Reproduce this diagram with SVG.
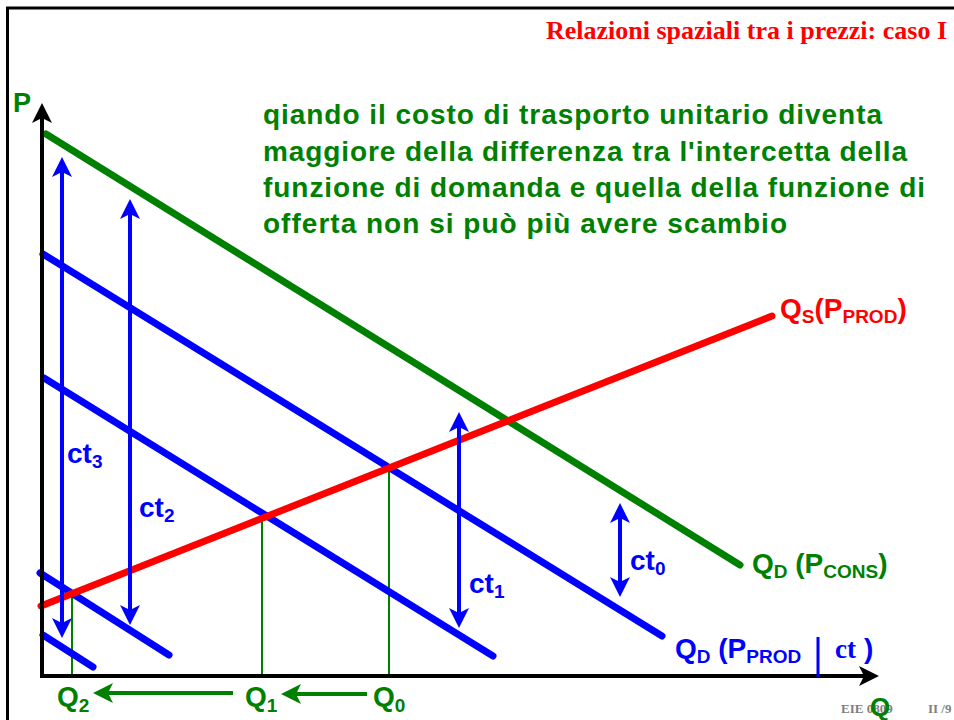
<svg xmlns="http://www.w3.org/2000/svg" width="954" height="720" viewBox="0 0 954 720">
<defs>
<style>
.s{font-family:"Liberation Sans",Arial,sans-serif;font-weight:bold}
.serif{font-family:"Liberation Serif","Times New Roman",serif;font-weight:bold}
.g{fill:#008000}.b{fill:#0000FF}.r{fill:#FF0000}
.curve{fill:none;stroke-width:7;stroke-linecap:round}
.arr{fill:none;stroke-width:4}
</style>
<marker id="hk" viewBox="0 0 20 20" refX="5" refY="10" markerWidth="20" markerHeight="20" markerUnits="userSpaceOnUse" orient="auto-start-reverse"><path d="M0,0 L20,10 L0,20 L5,10 Z" fill="#000"/></marker>
<marker id="hb" viewBox="0 0 20 20" refX="5" refY="10" markerWidth="20" markerHeight="20" markerUnits="userSpaceOnUse" orient="auto-start-reverse"><path d="M0,0 L20,10 L0,20 L5,10 Z" fill="#0000FF"/></marker>
<marker id="hg" viewBox="0 0 20 20" refX="5" refY="10" markerWidth="20" markerHeight="20" markerUnits="userSpaceOnUse" orient="auto-start-reverse"><path d="M0,0 L20,10 L0,20 L5,10 Z" fill="#008000"/></marker>
</defs>
<rect x="7.5" y="8" width="960" height="730" fill="none" stroke="#000" stroke-width="3"/>
<text class="serif r" x="546" y="39" font-size="26">Relazioni spaziali tra i prezzi: caso I</text>

<g id="connectors">
<!-- guide lines -->
<line x1="72" y1="594" x2="72" y2="676" stroke="#008000" stroke-width="2"/>
<line x1="262" y1="517" x2="262" y2="676" stroke="#008000" stroke-width="2"/>
<line x1="389" y1="467" x2="389" y2="676" stroke="#008000" stroke-width="2"/>
<!-- curves -->
<line class="curve" x1="46" y1="134" x2="740" y2="565" stroke="#008000"/>
<line class="curve" x1="43" y1="254" x2="662" y2="636" stroke="#0000FF"/>
<line class="curve" x1="44" y1="378" x2="493" y2="656" stroke="#0000FF"/>
<line class="curve" x1="40" y1="573" x2="169" y2="655" stroke="#0000FF"/>
<line class="curve" x1="43" y1="635" x2="93" y2="667" stroke="#0000FF"/>
<line class="curve" x1="41" y1="606" x2="772" y2="316" stroke="#FF0000"/>
<!-- axes -->
<line class="arr" x1="42" y1="678" x2="42" y2="118" stroke="#000" marker-end="url(#hk)"/>
<line class="arr" x1="40" y1="676" x2="864" y2="676" stroke="#000" marker-end="url(#hk)"/>
<!-- ct arrows -->
<line class="arr" x1="62" y1="172" x2="62" y2="623" stroke="#0000FF" marker-start="url(#hb)" marker-end="url(#hb)"/>
<line class="arr" x1="130" y1="214" x2="130" y2="610" stroke="#0000FF" marker-start="url(#hb)" marker-end="url(#hb)"/>
<line class="arr" x1="459" y1="427" x2="459" y2="613" stroke="#0000FF" marker-start="url(#hb)" marker-end="url(#hb)"/>
<line class="arr" x1="620" y1="518" x2="620" y2="582" stroke="#0000FF" marker-start="url(#hb)" marker-end="url(#hb)"/>
<!-- Q shift arrows -->
<line class="arr" x1="233" y1="693" x2="108" y2="693" stroke="#008000" marker-end="url(#hg)"/>
<line class="arr" x1="367" y1="694" x2="296" y2="694" stroke="#008000" marker-end="url(#hg)"/>
<!-- bar in label -->
<line x1="818" y1="637" x2="818" y2="677" stroke="#0000FF" stroke-width="3"/>
</g>

<g id="text-main" class="s g" font-size="28">
<text x="263" y="124" textLength="619" lengthAdjust="spacing">qiando il costo di trasporto unitario diventa</text>
<text x="263" y="161" textLength="644" lengthAdjust="spacing">maggiore della differenza tra l'intercetta della</text>
<text x="263" y="197" textLength="662" lengthAdjust="spacing">funzione di domanda e quella della funzione di</text>
<text x="263" y="233" textLength="524" lengthAdjust="spacing">offerta non si può più avere scambio</text>
</g>

<g id="label-P"><text class="s g" x="13" y="112" font-size="27">P</text></g>
<g id="label-Qaxis"><text class="serif" x="841" y="713" font-size="13" fill="#808080">EIE 0809</text><text class="serif" x="928" y="713" font-size="13" fill="#808080">II /9</text><text class="s g" x="870" y="716" font-size="26">Q</text></g>

<g id="label-QS"><text class="s r" x="780" y="318" font-size="28">Q<tspan font-size="19" dy="5">S</tspan><tspan dy="-5">(P</tspan><tspan font-size="19" dy="5">PROD</tspan><tspan dy="-5">)</tspan></text></g>
<g id="label-QDcons"><text class="s g" x="752" y="573" font-size="28">Q<tspan font-size="19" dy="5">D</tspan><tspan dy="-5"> (P</tspan><tspan font-size="19" dy="5">CONS</tspan><tspan dy="-5">)</tspan></text></g>
<g id="label-QDprod"><text class="s b" x="675" y="658" font-size="28">Q<tspan font-size="19" dy="5">D</tspan><tspan dy="-5"> (P</tspan><tspan font-size="19" dy="5">PROD</tspan></text><text class="serif b" x="835" y="658" font-size="27">ct</text><text class="s b" x="864" y="658" font-size="28">)</text></g>

<g id="label-ct3"><text class="s b" x="67" y="463" font-size="28">ct<tspan font-size="19" dy="5">3</tspan></text></g>
<g id="label-ct2"><text class="s b" x="139" y="517" font-size="28">ct<tspan font-size="19" dy="5">2</tspan></text></g>
<g id="label-ct1"><text class="s b" x="469" y="593" font-size="28">ct<tspan font-size="19" dy="5">1</tspan></text></g>
<g id="label-ct0"><text class="s b" x="630" y="570" font-size="28">ct<tspan font-size="19" dy="5">0</tspan></text></g>

<g id="label-Q2"><text class="s g" x="57" y="706" font-size="28">Q<tspan font-size="19" dy="6">2</tspan></text></g>
<g id="label-Q1"><text class="s g" x="245" y="706" font-size="28">Q<tspan font-size="19" dy="6">1</tspan></text></g>
<g id="label-Q0"><text class="s g" x="373" y="706" font-size="28">Q<tspan font-size="19" dy="6">0</tspan></text></g>
</svg>
